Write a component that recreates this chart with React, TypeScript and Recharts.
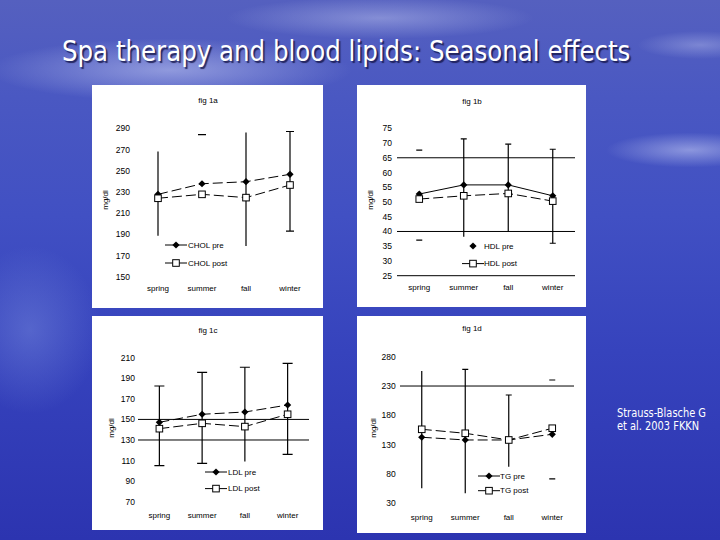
import type { FC, ReactElement } from "react";
import {
  ComposedChart,
  Line,
  XAxis,
  YAxis,
  ReferenceLine,
  ErrorBar,
  Legend,
} from "recharts";

// === data ===
const SEASONS = ["spring", "summer", "fall", "winter"];

// fig 1a: total cholesterol (mg/dl)
const cholPre = [227.7, 237.7, 239.6, 246.6];
const cholPost = [224, 227.7, 224.6, 236.5];
const cholLow = [188.7, null, 179, 193];
const cholHigh = [268, null, 286, 287];
const cholCapTop = [null, 284, null, 287];
const cholCapBottom = [null, null, null, 193];
const cholTicks = [150, 170, 190, 210, 230, 250, 270, 290];
const cholLegend = ["CHOL pre", "CHOL post"];

// fig 1b: HDL
const hdlPre = [52.7, 55.8, 55.8, 52.1];
const hdlPost = [51, 52.1, 52.9, 50.3];
const hdlLow = [null, 38.2, 39.9, 36];
const hdlHigh = [null, 71.4, 69.6, 67.9];
const hdlCapTop = [67.6, 71.4, 69.6, 67.9];
const hdlCapBottom = [37.1, null, null, 36];
const hdlTicks = [25, 30, 35, 40, 45, 50, 55, 60, 65, 70, 75];
const hdlRefLines = [65, 40];
const hdlLegend = ["HDL pre", "HDL post"];

// fig 1c: LDL
const ldlPre = [147.2, 155, 157.2, 164];
const ldlPost = [141, 146.2, 143, 155];
const ldlLow = [105, 107.3, 109, 116];
const ldlHigh = [182.5, 195.8, 200.7, 204.5];
const ldlCapTop = [182.5, 195.8, 200.7, 204.5];
const ldlCapBottom = [105, 107.3, null, 116];
const ldlTicks = [70, 90, 110, 130, 150, 170, 190, 210];
const ldlRefLines = [150, 130];
const ldlLegend = ["LDL pre", "LDL post"];

// fig 1d: triglycerides
const tgPre = [142.6, 138, 138, 147.7];
const tgPost = [156.2, 149.4, 138, 158];
const tgLow = [55.7, 47, 92.5, null];
const tgHigh = [255.6, 258.5, 214.7, null];
const tgCapTop = [null, 258.5, 214.7, 240.3];
const tgCapBottom = [null, null, null, 71.5];
const tgTicks = [30, 80, 130, 180, 230, 280];
const tgRefLines = [230];
const tgLegend = ["TG pre", "TG post"];

type Num = number | null;

// === markers ===
const Diamond = (props: any): ReactElement => {
  const { cx, cy, index } = props;
  if (cx == null || cy == null) return <g key={`dm-${index}`} />;
  const r = 3.6;
  return (
    <path
      key={`dm-${index}`}
      d={`M${cx},${cy - r}L${cx + r},${cy}L${cx},${cy + r}L${cx - r},${cy}Z`}
      fill="#000"
    />
  );
};

const Square = (props: any): ReactElement => {
  const { cx, cy, index } = props;
  if (cx == null || cy == null) return <g key={`sq-${index}`} />;
  const r = 3.3;
  return (
    <rect
      key={`sq-${index}`}
      x={cx - r}
      y={cy - r}
      width={r * 2}
      height={r * 2}
      fill="#fff"
      stroke="#000"
      strokeWidth={1}
    />
  );
};

const makeCap = (half: number) => (props: any): ReactElement => {
  const { cx, cy, index } = props;
  if (cx == null || cy == null) return <g key={`cap-${index}`} />;
  return (
    <line
      key={`cap-${index}`}
      x1={cx - half}
      x2={cx + half}
      y1={cy}
      y2={cy}
      stroke="#000"
      strokeWidth={1.2}
    />
  );
};

const FONT = "'Liberation Sans', Arial, sans-serif";

interface PanelProps {
  title: string;
  box: { left: number; top: number; width: number; height: number };
  margin: { top: number; right: number; bottom: number; left: number };
  yWidth: number;
  yGap: number;
  xGap: number;
  domain: [number, number];
  ticks: number[];
  pre: number[];
  post: number[];
  low: Num[];
  high: Num[];
  capTop: Num[];
  capBottom: Num[];
  refLines?: number[];
  axisLine?: boolean;
  preDash: string;
  postDash: string;
  capHalf: number;
  legendLabels: string[];
  legendPreLine: boolean;
  legendPos: { x: number; y: number; textX: number; rowGap: number };
  unitPos: { x: number; y: number };
  titlePos: { x: number; y: number };
}

const Panel: FC<PanelProps> = (p) => {
  const rows = SEASONS.map((season, i) => {
    const lo = p.low[i];
    const hi = p.high[i];
    return {
      season,
      pre: p.pre[i],
      post: p.post[i],
      err: lo != null && hi != null ? [p.pre[i] - lo, hi - p.pre[i]] : null,
      capTop: p.capTop[i],
      capBottom: p.capBottom[i],
    };
  });
  const plotW = p.box.width - p.margin.left - p.margin.right - p.yWidth;
  const pad = plotW / 8;
  const Cap = makeCap(p.capHalf);
  const lp = p.legendPos;

  const renderLegend = () => (
    <svg width={90} height={lp.rowGap + 12} style={{ display: "block" }}>
      {p.legendLabels.map((label, i) => {
        const y = 6 + i * lp.rowGap;
        const showLine = i === 1 || p.legendPreLine;
        return (
          <g key={label}>
            {showLine && <line x1={0} x2={22} y1={y} y2={y} stroke="#000" strokeWidth={1} />}
            {i === 0 ? Diamond({ cx: 11, cy: y, index: 0 }) : Square({ cx: 11, cy: y, index: 0 })}
            <text
              x={lp.textX}
              y={y}
              dominantBaseline="central"
              fontSize={8}
              fontFamily={FONT}
              fill="#000"
            >
              {label}
            </text>
          </g>
        );
      })}
    </svg>
  );

  return (
    <div
      style={{
        position: "absolute",
        left: p.box.left,
        top: p.box.top,
        width: p.box.width,
        height: p.box.height,
        background: "#fff",
        fontFamily: FONT,
      }}
    >
      <div
        style={{
          position: "absolute",
          left: p.titlePos.x,
          top: p.titlePos.y,
          transform: "translate(-50%, -50%)",
          fontSize: 8,
          whiteSpace: "nowrap",
        }}
      >
        {p.title}
      </div>
      <div
        style={{
          position: "absolute",
          left: p.unitPos.x,
          top: p.unitPos.y,
          transform: "translate(-50%, -50%) rotate(-90deg)",
          fontSize: 8,
          whiteSpace: "nowrap",
        }}
      >
        mg/dl
      </div>
      <ComposedChart
        width={p.box.width}
        height={p.box.height}
        data={rows}
        margin={p.margin}
        style={{ position: "absolute", left: 0, top: 0 }}
      >
        <XAxis
          dataKey="season"
          interval={0}
          padding={{ left: pad, right: pad }}
          axisLine={p.axisLine ? { stroke: "#000", strokeWidth: 1 } : false}
          tickLine={false}
          height={20}
          tickSize={6}
          tickMargin={p.xGap - 6}
          tick={{ fontSize: 8, fill: "#000", fontFamily: FONT }}
        />
        <YAxis
          type="number"
          domain={p.domain}
          ticks={p.ticks}
          interval={0}
          allowDataOverflow
          axisLine={false}
          tickLine={false}
          width={p.yWidth}
          tickSize={p.yGap - 2}
          tickMargin={2}
          tick={{ fontSize: 8.5, fill: "#000", fontFamily: FONT }}
        />
        {(p.refLines || []).map((v) => (
          <ReferenceLine key={v} y={v} stroke="#000" strokeWidth={1} ifOverflow="visible" />
        ))}
        <Legend
          layout="vertical"
          align="center"
          verticalAlign="middle"
          content={renderLegend}
          wrapperStyle={{ left: lp.x, top: lp.y - 6, width: 90 }}
        />
        <Line
          dataKey="pre"
          name={p.legendLabels[0]}
          stroke="#000"
          strokeWidth={1}
          strokeDasharray={p.preDash}
          dot={Diamond}
          activeDot={false}
          isAnimationActive={false}
        >
          <ErrorBar dataKey="err" width={0} stroke="#000" strokeWidth={1.2} direction="y" />
        </Line>
        <Line
          dataKey="post"
          name={p.legendLabels[1]}
          stroke="#000"
          strokeWidth={1}
          strokeDasharray={p.postDash}
          dot={Square}
          activeDot={false}
          isAnimationActive={false}
        />
        <Line
          dataKey="capTop"
          stroke="none"
          legendType="none"
          dot={Cap}
          activeDot={false}
          isAnimationActive={false}
        />
        <Line
          dataKey="capBottom"
          stroke="none"
          legendType="none"
          dot={Cap}
          activeDot={false}
          isAnimationActive={false}
        />
      </ComposedChart>
    </div>
  );
};

const App: FC = () => {
  const bg = [
    "radial-gradient(ellipse 260px 45px at 170px 70px, rgba(225,230,255,0.45), rgba(225,230,255,0) 70%)",
    "radial-gradient(ellipse 220px 30px at 380px 18px, rgba(225,230,255,0.35), rgba(225,230,255,0) 70%)",
    "radial-gradient(ellipse 120px 25px at 690px 150px, rgba(225,230,255,0.45), rgba(225,230,255,0) 70%)",
    "radial-gradient(ellipse 90px 20px at 700px 45px, rgba(225,230,255,0.3), rgba(225,230,255,0) 70%)",
    "radial-gradient(ellipse 100px 120px at 30px 330px, rgba(140,160,230,0.35), rgba(140,160,230,0) 70%)",
    "linear-gradient(180deg, #5560bf 0%, #4a58c2 18%, #4150c3 40%, #3643bd 65%, #2c34b0 100%)",
  ].join(",");

  return (
    <div
      style={{
        position: "absolute",
        left: 0,
        top: 0,
        width: 720,
        height: 540,
        overflow: "hidden",
        background: bg,
      }}
    >
      <div
        style={{
          position: "absolute",
          left: 62,
          top: 38,
          fontFamily: "'DejaVu Sans', Verdana, sans-serif",
          fontSize: 28,
          lineHeight: "28px",
          color: "#fff",
          whiteSpace: "nowrap",
          transform: "scaleX(0.875)",
          transformOrigin: "0 0",
          textShadow: "2px 2px 1px rgba(20,20,70,0.8)",
        }}
      >
        Spa therapy and blood lipids: Seasonal effects
      </div>

      <Panel
        title="fig 1a"
        box={{ left: 92, top: 85, width: 231, height: 223 }}
        margin={{ top: 43.3, right: 11, bottom: 11.3, left: 10 }}
        yWidth={34}
        yGap={6}
        xGap={9}
        domain={[150, 290]}
        ticks={cholTicks}
        pre={cholPre}
        post={cholPost}
        low={cholLow}
        high={cholHigh}
        capTop={cholCapTop}
        capBottom={cholCapBottom}
        preDash="10 4"
        postDash="10 4"
        capHalf={4}
        legendLabels={cholLegend}
        legendPreLine
        legendPos={{ x: 73, y: 160, textX: 23, rowGap: 18 }}
        unitPos={{ x: 13, y: 115 }}
        titlePos={{ x: 116, y: 15 }}
      />
      <Panel
        title="fig 1b"
        box={{ left: 357, top: 85, width: 229, height: 222 }}
        margin={{ top: 43.3, right: 11, bottom: 11.3, left: 10 }}
        yWidth={30}
        yGap={5}
        xGap={9}
        domain={[25, 75]}
        ticks={hdlTicks}
        pre={hdlPre}
        post={hdlPost}
        low={hdlLow}
        high={hdlHigh}
        capTop={hdlCapTop}
        capBottom={hdlCapBottom}
        refLines={hdlRefLines}
        axisLine
        preDash=""
        postDash="10 4"
        capHalf={3}
        legendLabels={hdlLegend}
        legendPreLine={false}
        legendPos={{ x: 105, y: 160.7, textX: 22, rowGap: 17.6 }}
        unitPos={{ x: 13, y: 115 }}
        titlePos={{ x: 115, y: 16 }}
      />
      <Panel
        title="fig 1c"
        box={{ left: 92, top: 316, width: 231, height: 214 }}
        margin={{ top: 41.7, right: 14, bottom: 8.3, left: 10 }}
        yWidth={36}
        yGap={3}
        xGap={11}
        domain={[70, 210]}
        ticks={ldlTicks}
        pre={ldlPre}
        post={ldlPost}
        low={ldlLow}
        high={ldlHigh}
        capTop={ldlCapTop}
        capBottom={ldlCapBottom}
        refLines={ldlRefLines}
        preDash="10 4"
        postDash="10 4"
        capHalf={5}
        legendLabels={ldlLegend}
        legendPreLine
        legendPos={{ x: 113, y: 155.7, textX: 23, rowGap: 16.6 }}
        unitPos={{ x: 18.7, y: 112 }}
        titlePos={{ x: 116, y: 14 }}
      />
      <Panel
        title="fig 1d"
        box={{ left: 357, top: 316, width: 229, height: 217 }}
        margin={{ top: 40.7, right: 12, bottom: 9.7, left: 10 }}
        yWidth={33}
        yGap={4.3}
        xGap={11}
        domain={[30, 280]}
        ticks={tgTicks}
        pre={tgPre}
        post={tgPost}
        low={tgLow}
        high={tgHigh}
        capTop={tgCapTop}
        capBottom={tgCapBottom}
        refLines={tgRefLines}
        preDash="10 4"
        postDash="10 4"
        capHalf={3}
        legendLabels={tgLegend}
        legendPreLine
        legendPos={{ x: 121, y: 160, textX: 22, rowGap: 14.7 }}
        unitPos={{ x: 16.3, y: 112.3 }}
        titlePos={{ x: 115, y: 12 }}
      />

      <div
        style={{
          position: "absolute",
          left: 617,
          top: 406.6,
          fontFamily: "'DejaVu Sans', Verdana, sans-serif",
          fontSize: 12,
          lineHeight: "13px",
          color: "#fff",
          whiteSpace: "nowrap",
          transform: "scaleX(0.82)",
          transformOrigin: "0 0",
        }}
      >
        Strauss-Blasche G
        <br />
        et al. 2003 FKKN
      </div>
    </div>
  );
};

export default App;
